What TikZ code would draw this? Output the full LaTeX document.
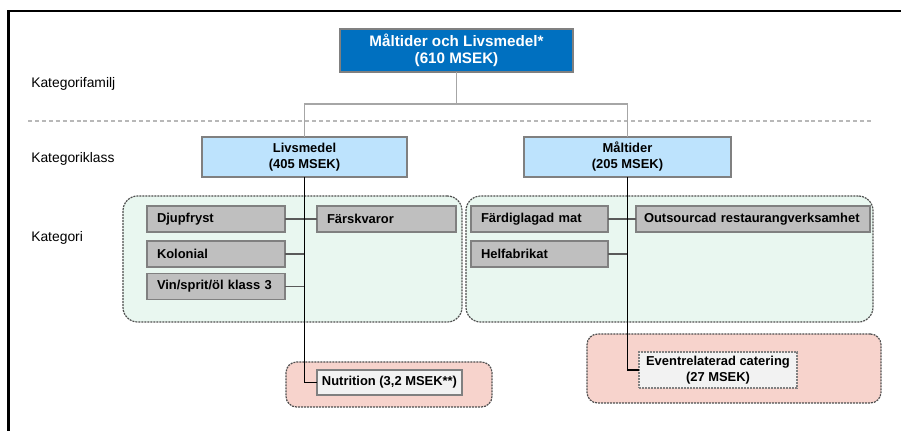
\documentclass[tikz,border=0pt]{standalone}
\usepackage{fontspec}
\setmainfont{Liberation Sans}
\definecolor{topblue}{HTML}{0070C0}
\definecolor{lblue}{HTML}{BDE3FD}
\definecolor{lgreen}{HTML}{E9F7F0}
\definecolor{lpink}{HTML}{F7D3CC}
\definecolor{gfill}{HTML}{BFBFBF}
\definecolor{bord}{HTML}{808080}
\definecolor{dashc}{HTML}{4D4D4D}
\definecolor{conn}{HTML}{A6A6A6}
\definecolor{dconn}{HTML}{5A5A5A}
\definecolor{wfill}{HTML}{F2F2F2}
\tikzset{
  sz/.style 2 args={minimum width={#1*0.75pt}, minimum height={#2*0.75pt}},
  base/.style={inner sep=0pt, outer sep=0pt, font=\fontsize{9.7}{12}\selectfont\bfseries},
  topbox/.style={base, draw=bord, line width=0.9pt, fill=topblue, text=white, align=center, font=\fontsize{11.4}{13}\selectfont\bfseries},
  klass/.style={base, draw=bord, line width=0.9pt, fill=lblue, align=center},
  catbox/.style 2 args={base, draw=bord, line width=0.9pt, fill=gfill, align=left, inner xsep=7.5pt, text width={(#1-20)*0.75pt}, minimum height={#2*0.75pt}},
  greenbox/.style={draw=dashc, line width=0.9pt, dash pattern=on 1.5pt off 0.75pt, fill=lgreen, rounded corners=11pt, inner sep=0pt, outer sep=0pt},
  pinkbox/.style={draw=dashc, line width=0.9pt, dash pattern=on 1.5pt off 0.75pt, fill=lpink, rounded corners=8pt, inner sep=0pt, outer sep=0pt},
  lab/.style={anchor=west, inner sep=0pt, font=\fontsize{10.4}{12}\selectfont},
  gline/.style={draw=conn, line width=1.1pt},
  cline/.style={draw=dconn, line width=1.1pt},
  bline/.style={draw=black, line width=1.1pt},
}
\begin{document}
\begin{tikzpicture}[x=0.75pt,y=-0.75pt]
\useasboundingbox (0,0) rectangle (901,431);
% frame
\coordinate (ftl) at (8.5,11);
\coordinate (ftr) at (901,11);
\coordinate (fbl) at (8.5,431);
\draw[line width=2.2pt] (fbl) -- (ftl) -- (ftr);
% divider
\coordinate (dl) at (28,121);
\coordinate (dr) at (873,121);
\draw[draw=conn!80, line width=0.8pt, dash pattern=on 3pt off 2.2pt] (dl) -- (dr);
% labels
\node[lab] (lfam) at (31,84) {Kategorifamilj};
\node[lab] (lkl) at (31,159) {Kategoriklass};
\node[lab] (lkat) at (31,238) {Kategori};
% containers
\node[greenbox, sz={339}{126}] (gl) at (292.5,259) {};
\node[greenbox, sz={407}{126}] (gr) at (669.5,259) {};
\node[pinkbox, sz={206}{45}] (pl) at (389,384.5) {};
\node[pinkbox, sz={294}{69}] (pr) at (734,368.5) {};
% top and class boxes
\node[topbox, sz={233}{43}] (top) at (456.5,50.5) {Måltider och Livsmedel*\\(610 MSEK)};
\node[klass, sz={205}{40}] (liv) at (304.5,157) {Livsmedel\\(405 MSEK)};
\node[klass, sz={207}{40}] (mal) at (627.5,157) {Måltider\\(205 MSEK)};
% category boxes
\node[catbox={138}{26}] (dju) at (216,219) {Djupfryst};
\node[catbox={139}{26}] (far) at (386.5,219) {Färskvaror};
\node[catbox={138}{26}] (kol) at (216,254) {Kolonial};
\node[catbox={138}{26}] (vin) at (216,286.5) {Vin/sprit/öl klass 3};
\node[catbox={137}{26}] (fdm) at (539.5,219) {Färdiglagad mat};
\node[catbox={228}{26}, inner xsep=6pt, text width={218*0.75pt}] (out) at (753,219) {Outsourcad restaurangverksamhet};
\node[catbox={137}{26}] (hel) at (539.5,254) {Helfabrikat};
\node[base, draw=bord, line width=0.9pt, fill=wfill, sz={145}{25}, align=center] (nut) at (389.5,382.5) {Nutrition (3,2 MSEK**)};
\node[base, draw=bord, line width=0.8pt, dash pattern=on 1.5pt off 0.75pt, fill=wfill, sz={158}{36}, align=center] (evt) at (718,370) {Eventrelaterad catering\\(27 MSEK)};
% top connectors
\coordinate (jn) at (456.5,104);
\draw[gline] (top.south) -- (jn);
\draw[gline] (jn) -| (liv.north);
\draw[gline] (jn) -| (mal.north);
% category connectors
\draw[cline] (dju.east) -- (far.west);
\draw[cline] (kol.east) -- (kol.east -| liv.south);
\draw[cline] (vin.east) -- (vin.east -| liv.south);
\draw[cline] (fdm.east) -- (out.west);
\draw[cline] (hel.east) -- (hel.east -| mal.south);
% spines
\draw[bline] (liv.south) |- (nut.west);
\draw[bline] (mal.south) |- (evt.west);
\end{tikzpicture}
\end{document}
